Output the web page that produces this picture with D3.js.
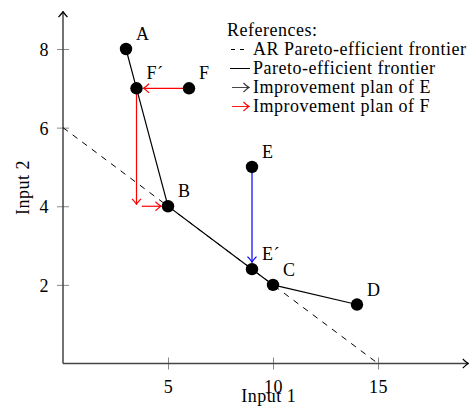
<!DOCTYPE html>
<html>
<head>
<meta charset="utf-8">
<script src="https://cdn.jsdelivr.net/npm/d3@7"></script>
<style>
  body { margin: 0; background: #fff; }
  text { font-family: "Liberation Serif", "DejaVu Serif", serif; fill: #000; letter-spacing: 0.5px; }
</style>
</head>
<body>
<div id="chart"></div>
<script>
// decision making units
var pointNames = ["A", "B", "C", "D", "E", "F", "E\u00b4", "F\u00b4"];
var input1 = [3, 5, 10, 14, 9, 6, 9, 3.5];
var input2 = [8, 4, 2, 1.5, 5, 7, 2.4, 7];

// Pareto-efficient frontier (in order)
var frontierOrder = ["A", "F\u00b4", "B", "E\u00b4", "C", "D"];

// AR Pareto-efficient frontier
var arInput1 = [0, 15];
var arInput2 = [6, 0];

// improvement plans
var planOf = ["E", "F", "F", "F"];
var planFrom1 = [9, 6, 3.5, 3.75];
var planFrom2 = [5, 7, 7, 4];
var planTo1 = [9, 3.5, 3.5, 5];
var planTo2 = [2.4, 7, 4.05, 4];

var xTicks = [5, 10, 15];
var yTicks = [2, 4, 6, 8];
var xMax = 19.3, yMax = 8.95;

var legendKinds = ["dash", "solid", "arrowE", "arrowF"];
var legendLabels = ["AR Pareto-efficient frontier", "Pareto-efficient frontier",
  "Improvement plan of E", "Improvement plan of F"];

var w = 470, h = 407, fs = 18;
var svg = d3.select("#chart").append("svg").attr("width", w).attr("height", h);

var x = d3.scaleLinear().domain([0, 15]).range([63, 378]);
var y = d3.scaleLinear().domain([0, 8]).range([363.5, 49]);

var defs = svg.append("defs");
function marker(id, color) {
  defs.append("marker").attr("id", id)
    .attr("markerUnits", "userSpaceOnUse")
    .attr("viewBox", "-7 -6 8 12").attr("refX", 0).attr("refY", 0)
    .attr("markerWidth", 8).attr("markerHeight", 12)
    .attr("orient", "auto")
    .append("path").attr("d", "M-5.5,-4.5 Q-1.5,-0.8 0,0 Q-1.5,0.8 -5.5,4.5")
    .attr("fill", "none").attr("stroke", color).attr("stroke-width", 1.2);
}
marker("ax", "#000");
marker("red", "red");
marker("blue", "blue");
marker("blk", "#333");

// axes
var xAxis = svg.append("g").attr("transform", "translate(0," + y(0) + ")")
  .call(d3.axisBottom(x).tickValues(xTicks).tickSize(6).tickSizeOuter(0));
var yAxis = svg.append("g").attr("transform", "translate(" + x(0) + ",0)")
  .call(d3.axisLeft(y).tickValues(yTicks).tickSize(6).tickSizeOuter(0));
[xAxis, yAxis].forEach(function(a) {
  a.attr("font-family", null).attr("font-size", null);
  a.select(".domain").remove();
});
xAxis.selectAll(".tick line").attr("y1", -6).attr("y2", 6).attr("stroke", "#888");
yAxis.selectAll(".tick line").attr("x1", -6).attr("x2", 6).attr("stroke", "#888");
xAxis.selectAll(".tick text").attr("y", 29).attr("dy", null).attr("font-size", fs);
yAxis.selectAll(".tick text").attr("x", -14).attr("dy", "0.36em").attr("font-size", fs);

svg.append("line").attr("x1", x(0)).attr("y1", y(0)).attr("x2", x(xMax)).attr("y2", y(0))
  .attr("stroke", "#444").attr("stroke-width", 1.5).attr("marker-end", "url(#ax)");
svg.append("line").attr("x1", x(0)).attr("y1", y(0)).attr("x2", x(0)).attr("y2", y(yMax))
  .attr("stroke", "#444").attr("stroke-width", 1.5).attr("marker-end", "url(#ax)");

svg.append("text").attr("x", (x(0) + x(xMax)) / 2 + 3).attr("y", 402)
  .attr("text-anchor", "middle").attr("font-size", fs).text("Input 1");
svg.append("text").attr("transform", "translate(29," + (y(0) + y(yMax)) / 2 + ") rotate(-90)")
  .attr("text-anchor", "middle").attr("font-size", fs).text("Input 2");

// AR frontier
var line = d3.line().x(function(d) { return x(d[0]); }).y(function(d) { return y(d[1]); });
svg.append("path").datum(d3.zip(arInput1, arInput2)).attr("d", line)
  .attr("fill", "none").attr("stroke", "#000").attr("stroke-width", 1)
  .attr("stroke-dasharray", "6,6");

// Pareto frontier
var pts = pointNames.map(function(n, i) { return { name: n, x: input1[i], y: input2[i] }; });
var byName = {};
pts.forEach(function(p) { byName[p.name] = p; });
svg.append("path").datum(frontierOrder.map(function(n) { return [byName[n].x, byName[n].y]; }))
  .attr("d", line).attr("fill", "none").attr("stroke", "#000").attr("stroke-width", 1.2);

// improvement arrows
var r = 6.2;
planOf.forEach(function(p, i) {
  var x1 = x(planFrom1[i]), y1 = y(planFrom2[i]), x2 = x(planTo1[i]), y2 = y(planTo2[i]);
  var hit = pts.some(function(q) { return q.x === planTo1[i] && q.y === planTo2[i]; });
  if (hit) {
    var len = Math.hypot(x2 - x1, y2 - y1), s = (len - r - 0.8) / len;
    x2 = x1 + (x2 - x1) * s;
    y2 = y1 + (y2 - y1) * s;
  }
  var c = p === "E" ? "blue" : "red";
  svg.append("line").attr("x1", x1).attr("y1", y1).attr("x2", x2).attr("y2", y2)
    .attr("stroke", c).attr("stroke-width", 1.2).attr("marker-end", "url(#" + c + ")");
});

// points
svg.selectAll("circle.pt").data(pts).enter().append("circle").attr("class", "pt")
  .attr("cx", function(d) { return x(d.x); }).attr("cy", function(d) { return y(d.y); })
  .attr("r", r).attr("fill", "#000");
svg.selectAll("text.lbl").data(pts).enter().append("text").attr("class", "lbl")
  .attr("x", function(d) { return x(d.x) + 10; }).attr("y", function(d) { return y(d.y) - 9; })
  .attr("font-size", fs).text(function(d) { return d.name; });

// legend
var lg = svg.append("g").attr("transform", "translate(227,36)");
lg.append("text").attr("x", 0).attr("y", 0).attr("font-size", fs).text("References:");
legendKinds.forEach(function(k, i) {
  var by = 19 * (i + 1), my = by - 5.5;
  if (k === "dash") {
    lg.append("line").attr("x1", 4).attr("x2", 18).attr("y1", my).attr("y2", my)
      .attr("stroke", "#000").attr("stroke-width", 1).attr("stroke-dasharray", "4,5");
  } else if (k === "solid") {
    lg.append("line").attr("x1", 3).attr("x2", 23).attr("y1", my).attr("y2", my)
      .attr("stroke", "#000").attr("stroke-width", 1);
  } else {
    var c = k === "arrowE" ? "#333" : "red";
    lg.append("line").attr("x1", 5).attr("x2", 22).attr("y1", my).attr("y2", my)
      .attr("stroke", c).attr("stroke-width", 0.9)
      .attr("marker-end", "url(#" + (k === "arrowE" ? "blk" : "red") + ")");
  }
  lg.append("text").attr("x", 26).attr("y", by).attr("font-size", fs).text(legendLabels[i]);
});
</script>
</body>
</html>
